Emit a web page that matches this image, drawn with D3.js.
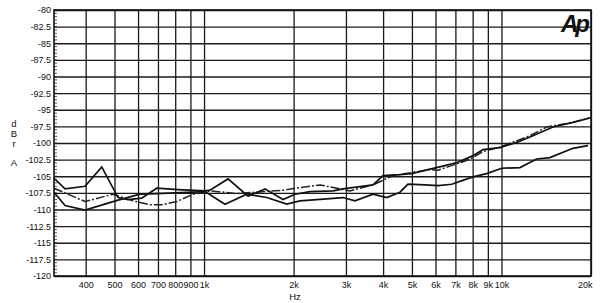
<!DOCTYPE html>
<html>
<head>
<meta charset="utf-8">
<script src="https://cdn.jsdelivr.net/npm/d3@7"></script>
<style>
  body { margin: 0; background: #fff; }
  svg { display: block; }
  .tick text { font-family: "Liberation Sans Narrow", "Arial Narrow", "Liberation Sans", Arial, sans-serif; font-size: 9px; fill: #111; }
  .lbl { font-family: "Liberation Sans Narrow", "Arial Narrow", "Liberation Sans", Arial, sans-serif; font-size: 9.5px; fill: #111; }
</style>
</head>
<body>
<svg id="chart" width="600" height="303"></svg>
<script>
// tick values and labels
var yTickValues = [-80, -82.5, -85, -87.5, -90, -92.5, -95, -97.5, -100, -102.5, -105, -107.5, -110, -112.5, -115, -117.5, -120];
var xTickValues = [400, 500, 600, 700, 800, 900, 1000, 2000, 3000, 4000, 5000, 6000, 7000, 8000, 9000, 10000, 20000];
var xTickLabels = ["400", "500", "600", "700", "800", "900", "1k", "2k", "3k", "4k", "5k", "6k", "7k", "8k", "9k", "10k", "20k"];

// curves: [Hz, dBr]
var solidA = [[313,-105.3],[341,-106.9],[398,-106.5],[453,-103.6],[514,-108.2],[555,-108.5],[617,-108.3],[693,-106.8],
  [818,-107.0],[1008,-107.2],[1047,-107.1],[1204,-105.4],[1406,-108.0],[1603,-106.9],[1843,-108.5],[2023,-107.7],
  [2272,-107.3],[2715,-107.2],[2932,-106.9],[3700,-106.3],[3998,-104.9],[4559,-104.75],[4990,-104.6],[5662,-104.0],
  [6457,-103.4],[7141,-102.9],[8020,-101.9],[8667,-101.0],[9886,-100.7],[11250,-99.9],[12470,-99.1],[14900,-97.6],
  [17390,-96.9],[20000,-96.2]];
var solidB = [[313,-107.4],[341,-109.4],[398,-110.1],[514,-108.6],[609,-107.7],[693,-107.6],[1008,-107.3],[1176,-109.2],
  [1392,-107.7],[1625,-108.2],[1897,-109.2],[2102,-108.7],[2585,-108.4],[2932,-108.2],[3218,-108.7],[3700,-107.7],
  [4113,-108.2],[4559,-107.4],[4850,-106.2],[5533,-106.3],[6117,-106.4],[6802,-106.2],[7540,-105.5],[8020,-105.1],
  [8917,-104.6],[10016,-103.8],[11540,-103.7],[13130,-102.4],[14550,-102.2],[17390,-100.8],[19530,-100.4]];
var dashC = [[313,-106.8],[398,-108.8],[494,-107.7],[577,-108.7],[659,-109.3],[721,-109.3],[810,-108.8],[918,-107.7],
  [1008,-107.4],[1047,-107.2],[1288,-107.6],[1843,-107.1],[2102,-106.7],[2455,-106.3],[2865,-106.9],[3097,-107.2],
  [3700,-106.3],[4318,-104.9],[5751,-104.0],[6117,-104.1],[7540,-102.7],[8020,-102.2],[8667,-101.3],[9886,-100.6],
  [12470,-98.9],[14190,-97.6],[17390,-96.9],[19840,-96.2]];

var svg = d3.select("#chart");
var plotL = 54, plotR = 591, plotT = 10, plotB = 276;

var x = d3.scaleLog().domain([313, 20000]).range([plotL, plotR]);
var y = d3.scaleLinear().domain([-120, -80]).range([plotB, plotT]);

// horizontal grid + y labels
var yAxis = d3.axisLeft(y)
  .tickValues(yTickValues)
  .tickFormat(function (d) { return String(d); })
  .tickSize(-(plotR - plotL))
  .tickPadding(3);
var gy = svg.append("g")
  .attr("transform", "translate(" + plotL + ",0)")
  .call(yAxis);
gy.select(".domain").remove();
gy.selectAll("line").attr("stroke", "#1a1a1a").attr("stroke-width", 1.3);

// vertical grid + x labels
var xAxis = d3.axisBottom(x)
  .tickValues(xTickValues)
  .tickFormat(function (d, i) { return xTickLabels[i]; })
  .tickSize(-(plotB - plotT))
  .tickPadding(6);
var gx = svg.append("g")
  .attr("transform", "translate(0," + plotB + ")")
  .call(xAxis);
gx.select(".domain").remove();
gx.selectAll("line").attr("stroke", "#1a1a1a").attr("stroke-width", 1.3);
// last label sits inside the frame
gx.selectAll(".tick text").filter(function (d) { return d === 20000; })
  .attr("text-anchor", "end").attr("dx", 1);

// small ticks along the left edge
var minor = d3.range(-120, -79.9, 0.5);
svg.append("g").selectAll("line")
  .data(minor)
  .enter().append("line")
  .attr("x1", plotL).attr("x2", plotL + 3)
  .attr("y1", function (d) { return y(d); })
  .attr("y2", function (d) { return y(d); })
  .attr("stroke", "#333").attr("stroke-width", 0.8);

// frame
svg.append("rect")
  .attr("x", plotL).attr("y", plotT)
  .attr("width", plotR - plotL).attr("height", plotB - plotT)
  .attr("fill", "none").attr("stroke", "#111").attr("stroke-width", 1.6);

// curves
var line = d3.line()
  .x(function (d) { return x(d[0]); })
  .y(function (d) { return y(d[1]); });

svg.append("path").datum(dashC)
  .attr("d", line).attr("fill", "none")
  .attr("stroke", "#222").attr("stroke-width", 1.5)
  .attr("stroke-dasharray", "9,2,2,2");
svg.append("path").datum(solidB)
  .attr("d", line).attr("fill", "none")
  .attr("stroke", "#111").attr("stroke-width", 1.7);
svg.append("path").datum(solidA)
  .attr("d", line).attr("fill", "none")
  .attr("stroke", "#111").attr("stroke-width", 1.7);

// axis titles
svg.append("text").attr("class", "lbl")
  .attr("x", 295).attr("y", 300)
  .attr("text-anchor", "middle")
  .text("Hz");
var ttl = [["d", 127], ["B", 137], ["r", 147], ["A", 166]];
ttl.forEach(function (t) {
  svg.append("text").attr("class", "lbl")
    .attr("x", 14).attr("y", t[1])
    .attr("text-anchor", "middle")
    .text(t[0]);
});

// Ap logo
svg.append("text")
  .attr("x", 587).attr("y", 32)
  .attr("text-anchor", "end")
  .attr("font-family", "Liberation Sans, Arial, sans-serif")
  .attr("font-size", 24)
  .attr("font-weight", "bold")
  .attr("font-style", "italic")
  .attr("letter-spacing", -3)
  .attr("fill", "#111")
  .text("Ap");
</script>
</body>
</html>
